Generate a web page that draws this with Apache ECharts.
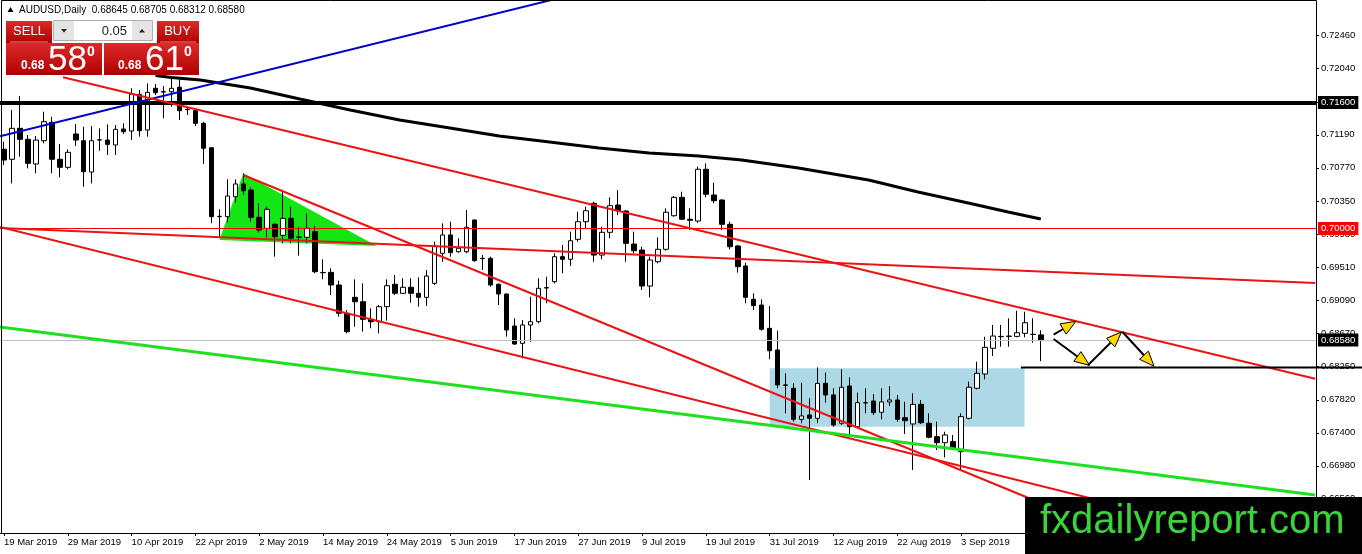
<!DOCTYPE html>
<html><head><meta charset="utf-8">
<script src="https://cdn.jsdelivr.net/npm/echarts@6/dist/echarts.min.js"></script>
<style>html,body{margin:0;padding:0;background:#fff}#c{width:1362px;height:554px}</style>
</head><body><div id="c"></div>
<script>
// ---------------- DATA ----------------
const dates = [
'19 Mar 2019','20 Mar 2019','21 Mar 2019','22 Mar 2019','25 Mar 2019','26 Mar 2019','27 Mar 2019','28 Mar 2019','29 Mar 2019',
'1 Apr 2019','2 Apr 2019','3 Apr 2019','4 Apr 2019','5 Apr 2019','8 Apr 2019','9 Apr 2019','10 Apr 2019','11 Apr 2019','12 Apr 2019','15 Apr 2019','16 Apr 2019','17 Apr 2019','18 Apr 2019','19 Apr 2019','22 Apr 2019','23 Apr 2019','24 Apr 2019','25 Apr 2019','26 Apr 2019','29 Apr 2019','30 Apr 2019',
'1 May 2019','2 May 2019','3 May 2019','6 May 2019','7 May 2019','8 May 2019','9 May 2019','10 May 2019','13 May 2019','14 May 2019','15 May 2019','16 May 2019','17 May 2019','20 May 2019','21 May 2019','22 May 2019','23 May 2019','24 May 2019','27 May 2019','28 May 2019','29 May 2019','30 May 2019','31 May 2019',
'3 Jun 2019','4 Jun 2019','5 Jun 2019','6 Jun 2019','7 Jun 2019','10 Jun 2019','11 Jun 2019','12 Jun 2019','13 Jun 2019','14 Jun 2019','17 Jun 2019','18 Jun 2019','19 Jun 2019','20 Jun 2019','21 Jun 2019','24 Jun 2019','25 Jun 2019','26 Jun 2019','27 Jun 2019','28 Jun 2019',
'1 Jul 2019','2 Jul 2019','3 Jul 2019','4 Jul 2019','5 Jul 2019','8 Jul 2019','9 Jul 2019','10 Jul 2019','11 Jul 2019','12 Jul 2019','15 Jul 2019','16 Jul 2019','17 Jul 2019','18 Jul 2019','19 Jul 2019','22 Jul 2019','23 Jul 2019','24 Jul 2019','25 Jul 2019','26 Jul 2019','29 Jul 2019','30 Jul 2019','31 Jul 2019',
'1 Aug 2019','2 Aug 2019','5 Aug 2019','6 Aug 2019','7 Aug 2019','8 Aug 2019','9 Aug 2019','12 Aug 2019','13 Aug 2019','14 Aug 2019','15 Aug 2019','16 Aug 2019','19 Aug 2019','20 Aug 2019','21 Aug 2019','22 Aug 2019','23 Aug 2019','26 Aug 2019','27 Aug 2019','28 Aug 2019','29 Aug 2019','30 Aug 2019',
'2 Sep 2019','3 Sep 2019','4 Sep 2019','5 Sep 2019','6 Sep 2019','9 Sep 2019','10 Sep 2019','11 Sep 2019','12 Sep 2019','13 Sep 2019','16 Sep 2019','17 Sep 2019'];

const opens = [0.71006,0.70879,0.71273,0.71133,0.70819,0.71115,0.71349,0.70879,0.70777,0.71201,
0.71115,0.70717,0.71124,0.71124,0.71061,0.71264,0.71239,0.71706,0.71251,0.71782,
0.71739,0.71739,0.71795,0.71515,0.71497,0.71337,0.71026,0.70149,0.70149,0.70403,
0.70565,0.70488,0.70141,0.70001,0.70052,0.69912,0.70128,0.69887,0.69887,0.69958,
0.69436,0.69441,0.69280,0.68920,0.69123,0.69067,0.68843,0.68813,0.69004,0.69289,
0.69174,0.69251,0.69174,0.69123,0.69301,0.69683,0.69916,0.69703,0.69703,0.70107,
0.69619,0.69619,0.69289,0.69165,0.68758,0.68538,0.68771,0.68813,0.69246,0.69322,
0.69640,0.69607,0.69861,0.70085,0.70319,0.69661,0.69950,0.70297,0.70221,0.69801,
0.69725,0.69267,0.69576,0.69734,0.70161,0.70395,0.70116,0.70094,0.70752,0.70425,
0.70361,0.70052,0.69776,0.69522,0.69098,0.69025,0.68729,0.68453,0.68008,0.67966,
0.67571,0.67626,0.67584,0.68029,0.67881,0.67521,0.67995,0.67477,0.67783,0.67804,
0.67661,0.67792,0.67817,0.67592,0.67512,0.67762,0.67521,0.67350,0.67274,0.67287,
0.67159,0.67584,0.67966,0.68148,0.68475,0.68622,0.68626,0.68626,0.68665,0.68653,
0.68645];
const highs = [0.71103,0.71506,0.71684,0.71188,0.71175,0.71484,0.71421,0.71073,0.71006,0.71328,
0.71293,0.71302,0.71273,0.71324,0.71315,0.71337,0.71782,0.71760,0.71845,0.71837,
0.71811,0.71909,0.71909,0.71548,0.71515,0.71357,0.71030,0.70243,0.70624,0.70624,
0.70701,0.70523,0.70319,0.70276,0.70065,0.70467,0.70276,0.70021,0.70192,0.70034,
0.69607,0.69492,0.69335,0.68962,0.69352,0.69301,0.68983,0.69025,0.69352,0.69407,
0.69365,0.69365,0.69378,0.69471,0.69831,0.70065,0.70085,0.69874,0.70234,0.70110,
0.69661,0.69640,0.69301,0.69170,0.68856,0.68835,0.69131,0.69365,0.69385,0.69683,
0.69789,0.69958,0.70212,0.70276,0.70339,0.70021,0.70395,0.70488,0.70234,0.69958,
0.69767,0.69640,0.69887,0.70255,0.70412,0.70467,0.70255,0.70785,0.70828,0.70581,
0.70370,0.70085,0.69789,0.69564,0.69174,0.69098,0.69013,0.68699,0.68157,0.68029,
0.68037,0.67839,0.68233,0.68164,0.67966,0.68208,0.68106,0.67910,0.67966,0.67893,
0.67966,0.67995,0.67881,0.67795,0.67902,0.67817,0.67648,0.67541,0.67414,0.67372,
0.67648,0.68050,0.68304,0.68622,0.68771,0.68771,0.68856,0.68953,0.68940,0.68856,
0.68705];
const lows = [0.70806,0.70573,0.70912,0.70764,0.70701,0.71082,0.70701,0.70650,0.70752,0.71048,
0.70530,0.70573,0.70988,0.70933,0.70933,0.71201,0.71124,0.71166,0.71166,0.71697,
0.71400,0.71548,0.71379,0.71442,0.71302,0.70819,0.70065,0.69894,0.70072,0.70327,
0.70425,0.70085,0.69945,0.69887,0.69640,0.69810,0.69810,0.69653,0.69810,0.69429,
0.69352,0.69153,0.68877,0.68665,0.68749,0.68686,0.68729,0.68665,0.68826,0.69153,
0.69165,0.69055,0.69004,0.69013,0.69280,0.69576,0.69640,0.69691,0.69683,0.69576,
0.69471,0.69258,0.69025,0.68622,0.68517,0.68347,0.68559,0.68793,0.69047,0.69301,
0.69429,0.69522,0.69831,0.70001,0.69576,0.69607,0.69874,0.70170,0.69576,0.69683,
0.69216,0.69123,0.69556,0.69716,0.70149,0.70107,0.69979,0.70072,0.70395,0.70319,
0.69979,0.69734,0.69436,0.69047,0.68962,0.68699,0.68335,0.67966,0.67648,0.67541,
0.67521,0.66799,0.67521,0.67783,0.67477,0.67499,0.67372,0.67457,0.67648,0.67626,
0.67571,0.67741,0.67541,0.67385,0.66927,0.67512,0.67330,0.67181,0.67088,0.67181,
0.66927,0.67571,0.67953,0.68080,0.68377,0.68495,0.68495,0.68615,0.68615,0.68546,
0.68312];
const closes = [0.70870,0.71273,0.71133,0.70828,0.71124,0.71357,0.70879,0.70777,0.70968,0.71124,
0.70721,0.71115,0.71128,0.71069,0.71260,0.71230,0.71706,0.71243,0.71731,0.71726,
0.71735,0.71782,0.71497,0.71510,0.71337,0.71019,0.70149,0.70153,0.70412,0.70565,
0.70479,0.70141,0.69979,0.70243,0.69894,0.70128,0.69874,0.69890,0.70001,0.69449,
0.69440,0.69280,0.68920,0.68686,0.69067,0.68843,0.68813,0.69004,0.69271,0.69174,
0.69251,0.69174,0.69123,0.69394,0.69776,0.69916,0.69691,0.69747,0.70014,0.69589,
0.69615,0.69280,0.69165,0.68707,0.68529,0.68771,0.68813,0.69238,0.69242,0.69640,
0.69607,0.69843,0.70085,0.70225,0.69661,0.69950,0.70289,0.70225,0.69810,0.69716,
0.69267,0.69598,0.69734,0.70205,0.70395,0.70116,0.70103,0.70752,0.70434,0.70352,
0.70052,0.69767,0.69513,0.69123,0.69017,0.68716,0.68444,0.68008,0.68004,0.67571,
0.67614,0.67584,0.68029,0.67881,0.67499,0.67979,0.67477,0.67783,0.67780,0.67656,
0.67792,0.67817,0.67571,0.67554,0.67762,0.67528,0.67343,0.67274,0.67372,0.67203,
0.67605,0.67979,0.68157,0.68487,0.68631,0.68626,0.68630,0.68673,0.68800,0.68650,
0.68580];

const xTickLabels = ['19 Mar 2019','29 Mar 2019','10 Apr 2019','22 Apr 2019','2 May 2019','14 May 2019','24 May 2019','5 Jun 2019','17 Jun 2019','27 Jun 2019','9 Jul 2019','19 Jul 2019','31 Jul 2019','12 Aug 2019','22 Aug 2019','3 Sep 2019'];
const yTickValues = [0.66560,0.66980,0.67400,0.67820,0.68250,0.68670,0.69090,0.69510,0.69930,0.70350,0.70770,0.71190,0.71610,0.72040,0.72460];
const futureSlots = 34;              // empty bars to the right of the last candle

// moving average (bar position, price)
const maBars   = [19, 21, 24.6, 30.9, 37.1, 43.4, 49.6, 55.9, 62.1, 68.4, 74.6, 80.9, 87.1, 92.5, 99.6, 108.4, 114.6, 120.9, 125.9, 130];
const maValues = [0.71945,0.71919,0.71887,0.71786,0.71646,0.71506,0.71379,0.71277,0.71175,0.71099,0.71022,0.70959,0.70921,0.70870,0.70768,0.70615,0.70463,0.70323,0.70208,0.70119];

// trend lines: [bar, price] start and end
const blueTrend    = [[-0.5, 0.71173], [68.6, 0.72905]];
const upperChannel = [[7.4, 0.71922], [164.4, 0.68088]];
const flatRed      = [[-0.5, 0.70006], [164.4, 0.69305]];
const lowerChannel = [[-0.5, 0.70018], [137.1, 0.66545]];
const steepRed     = [[30, 0.70679], [130.9, 0.66469]];
const greenTrend   = [[-0.5, 0.68746], [164.4, 0.66609]];
const supportLine  = [127.5, 0.68230, 170.5, 0.68230];

// horizontal levels
const levelValues = [0.71600, 0.70000, 0.68580];

// shapes
const triangleBars   = [30, 27, 46.75];
const trianglePrices = [0.70701, 0.69852, 0.69776];
const boxBars   = [96, 127.96];
const boxPrices = [0.68220, 0.67477];

// arrows [bar1, price1, bar2, price2]
const arrows = [
  [131.6, 0.68648, 134.4, 0.68818],
  [131.6, 0.68593, 136.1, 0.68258],
  [135.9, 0.68258, 140.1, 0.68682],
  [140.25, 0.68682, 144.2, 0.68246]
];

// ---------------- STYLE ----------------
const FONT = "Tahoma, 'Liberation Sans', Arial, sans-serif";
const RED = '#ea1414';
const levelStyles = [
  {line:{color:'#000', width:4, type:'solid'}, bg:'#000'},
  {line:{color:'#ff0000', width:1, type:'solid'}, bg:'#ff0000'},
  {line:{color:'#c0c0c0', width:1, type:'solid'}, bg:'#000'}
];

const n = dates.length;
const categories = dates.concat(new Array(futureSlots).fill(''));
const N = categories.length;
const tickSet = new Set(xTickLabels);
const candleData = opens.map((o, i) => [o, closes[i], lows[i], highs[i]]);
const last = n - 1;

function trend(name, pts, color, width, z) {
  return {name, type:'line', xAxisIndex:1, yAxisIndex:0, data:pts, showSymbol:false, symbol:'none',
    lineStyle:{color, width}, z:z||4, clip:true, silent:true, animation:false};
}
const redGrad = {type:'linear', x:0, y:0, x2:0, y2:1, colorStops:[{offset:0, color:'#dc2a2a'},{offset:1, color:'#b00000'}]};
const G = (o) => Object.assign({z:100, silent:true}, o);

const chart = echarts.init(document.getElementById('c'), null, {renderer:'canvas'});
chart.setOption({
  animation:false,
  backgroundColor:'#ffffff',
  grid:{left:-1, right:46, top:2, bottom:21, containLabel:false},
  xAxis:[
    {type:'category', data:categories, boundaryGap:true,
     axisLine:{show:true, onZero:false, lineStyle:{color:'#000', width:1}},
     axisTick:{show:true, alignWithLabel:true, length:3, interval:(i, v) => tickSet.has(v), lineStyle:{color:'#000'}},
     axisLabel:{interval:(i, v) => tickSet.has(v), align:'left', margin:4, color:'#000', fontSize:9.5, fontFamily:FONT},
     splitLine:{show:false}},
    {type:'value', min:-0.5, max:N - 0.5, show:false, axisLine:{onZero:false}}
  ],
  yAxis:{type:'value', position:'right', min:0.66125, max:0.7288, scale:true,
    axisLine:{show:true, onZero:false, lineStyle:{color:'#000', width:1}},
    axisTick:{show:true, length:3, customValues:yTickValues, lineStyle:{color:'#000'}},
    axisLabel:{customValues:yTickValues, formatter:(v) => v.toFixed(5), color:'#000', fontSize:9.5, fontFamily:FONT, margin:5},
    splitLine:{show:false}},
  series:[
    {type:'custom', xAxisIndex:1, yAxisIndex:0, z:1, silent:true, data:[[boxBars[0], boxPrices[0], boxBars[1], boxPrices[1]]],
     encode:{x:[0,2], y:[1,3]},
     renderItem:(p, api) => {
       const a = api.coord([api.value(0), api.value(1)]), b = api.coord([api.value(2), api.value(3)]);
       return {type:'rect', shape:{x:a[0], y:a[1], width:b[0]-a[0], height:b[1]-a[1]}, style:{fill:'#add8e6'}};
     }},
    {type:'custom', xAxisIndex:1, yAxisIndex:0, z:1, silent:true, data:[[triangleBars[0], trianglePrices[0]]],
     renderItem:(p, api) => ({type:'polygon', shape:{points:triangleBars.map((b, i) => api.coord([b, trianglePrices[i]]))}, style:{fill:'#14e614'}})},
    {type:'candlestick', xAxisIndex:0, yAxisIndex:0, z:2, data:candleData, barWidth:5, silent:true,
     itemStyle:{color:'#ffffff', color0:'#000000', borderColor:'#000000', borderColor0:'#000000', borderWidth:1},
     markLine:{silent:true, symbol:['none','none'], animation:false, z:5, precision:5,
       data:levelValues.map((v, i) => ({yAxis:v, lineStyle:levelStyles[i].line,
         label:{show:true, position:'end', distance:2, formatter:(q) => Number(q.value).toFixed(5),
           color:'#fff', backgroundColor:levelStyles[i].bg, padding:[2,3,1,3], fontSize:9.5, fontFamily:FONT}}))}},
    trend('ma', maBars.map((b, i) => [b, maValues[i]]), '#000', 3, 4),
    trend('blue', blueTrend, '#0000cd', 2, 5),
    trend('upper', upperChannel, RED, 2, 5),
    trend('flat', flatRed, RED, 2, 5),
    trend('lower', lowerChannel, RED, 2, 5),
    trend('steep', steepRed, RED, 2, 5),
    trend('green', greenTrend, '#1ee01e', 3, 5),
    {type:'custom', xAxisIndex:1, yAxisIndex:0, z:50, silent:true, clip:false, data:[supportLine], encode:{x:[0,2], y:[1,3]},
     renderItem:(p, api) => {
       const a = api.coord([api.value(0), api.value(1)]), b = api.coord([api.value(2), api.value(3)]);
       return {type:'line', z2:50, shape:{x1:a[0], y1:a[1], x2:b[0], y2:b[1]}, style:{stroke:'#000', lineWidth:2}};
     }},
    {type:'custom', xAxisIndex:1, yAxisIndex:0, z:6, silent:true, data:arrows, encode:{x:[0,2], y:[1,3]},
     renderItem:(p, api) => {
       const a = api.coord([api.value(0), api.value(1)]), b = api.coord([api.value(2), api.value(3)]);
       const dx = b[0]-a[0], dy = b[1]-a[1], len = Math.hypot(dx, dy), ux = dx/len, uy = dy/len;
       const L = 15, W = 6;
       const base = [b[0]-ux*L, b[1]-uy*L];
       return {type:'group', children:[
         {type:'line', shape:{x1:a[0], y1:a[1], x2:base[0], y2:base[1]}, style:{stroke:'#000', lineWidth:2}},
         {type:'polygon', shape:{points:[b, [base[0]-uy*W, base[1]+ux*W], [base[0]+uy*W, base[1]-ux*W]]}, style:{fill:'#ffd800', stroke:'#000', lineWidth:1}}
       ]};
     }}
  ],
  graphic:[
    G({type:'rect', shape:{x:1.5, y:0.5, width:1315, height:533}, style:{fill:'none', stroke:'#000', lineWidth:1}}),
    // header
    G({type:'polygon', shape:{points:[[7.5,12],[13.5,12],[10.5,7]]}, style:{fill:'#000'}}),
    G({type:'text', x:19, y:10, style:{text:'AUDUSD,Daily  ' + [opens[last], highs[last], lows[last], closes[last]].map(v => v.toFixed(5)).join(' '), font:'10px ' + FONT, fill:'#000', verticalAlign:'middle'}}),
    // trade panel
    G({type:'rect', shape:{x:6, y:21, width:46, height:22}, style:{fill:redGrad}}),
    G({type:'rect', shape:{x:6, y:43, width:96, height:32}, style:{fill:redGrad}}),
    G({type:'line', shape:{x1:10, y1:42, x2:48, y2:42}, style:{stroke:'#f08080', lineWidth:1}}),
    G({type:'text', x:29, y:31.5, style:{text:'SELL', font:'13px ' + FONT, fill:'#fff', align:'center', verticalAlign:'middle'}}),
    G({type:'rect', shape:{x:53.5, y:20.5, width:99, height:20}, style:{fill:'#fff', stroke:'#b0b0b0', lineWidth:1}}),
    G({type:'rect', shape:{x:54, y:21, width:20, height:19}, style:{fill:'#e4e4e4'}}),
    G({type:'rect', shape:{x:132, y:21, width:20, height:19}, style:{fill:'#e4e4e4'}}),
    G({type:'polygon', shape:{points:[[61,29],[67,29],[64,32.5]]}, style:{fill:'#222'}}),
    G({type:'polygon', shape:{points:[[139,32.5],[145,32.5],[142,29]]}, style:{fill:'#222'}}),
    G({type:'text', x:127, y:31, style:{text:'0.05', font:'13px ' + FONT, fill:'#222', align:'right', verticalAlign:'middle'}}),
    G({type:'rect', shape:{x:157, y:21, width:42, height:22}, style:{fill:redGrad}}),
    G({type:'rect', shape:{x:104, y:43, width:95, height:32}, style:{fill:redGrad}}),
    G({type:'line', shape:{x1:160, y1:42, x2:196, y2:42}, style:{stroke:'#f08080', lineWidth:1}}),
    G({type:'text', x:177.5, y:31.5, style:{text:'BUY', font:'13px ' + FONT, fill:'#fff', align:'center', verticalAlign:'middle'}}),
    G({type:'text', x:21, y:66, style:{text:'0.68', font:'bold 12px ' + FONT, fill:'#fff', verticalAlign:'middle'}}),
    G({type:'text', x:48, y:60, style:{text:'58', font:'35px ' + FONT, fill:'#fff', verticalAlign:'middle'}}),
    G({type:'text', x:87, y:52, style:{text:'0', font:'bold 14px ' + FONT, fill:'#fff', verticalAlign:'middle'}}),
    G({type:'text', x:118, y:66, style:{text:'0.68', font:'bold 12px ' + FONT, fill:'#fff', verticalAlign:'middle'}}),
    G({type:'text', x:145, y:60, style:{text:'61', font:'35px ' + FONT, fill:'#fff', verticalAlign:'middle'}}),
    G({type:'text', x:184, y:52, style:{text:'0', font:'bold 14px ' + FONT, fill:'#fff', verticalAlign:'middle'}}),
    // watermark
    G({type:'rect', shape:{x:1025, y:497, width:337, height:57}, style:{fill:'#000'}}),
    G({type:'text', x:1040, y:522, style:{text:'fxdailyreport.com', font:'40px ' + FONT, fill:'#3ad43a', verticalAlign:'middle'}})
  ]
});
</script>
</body></html>
